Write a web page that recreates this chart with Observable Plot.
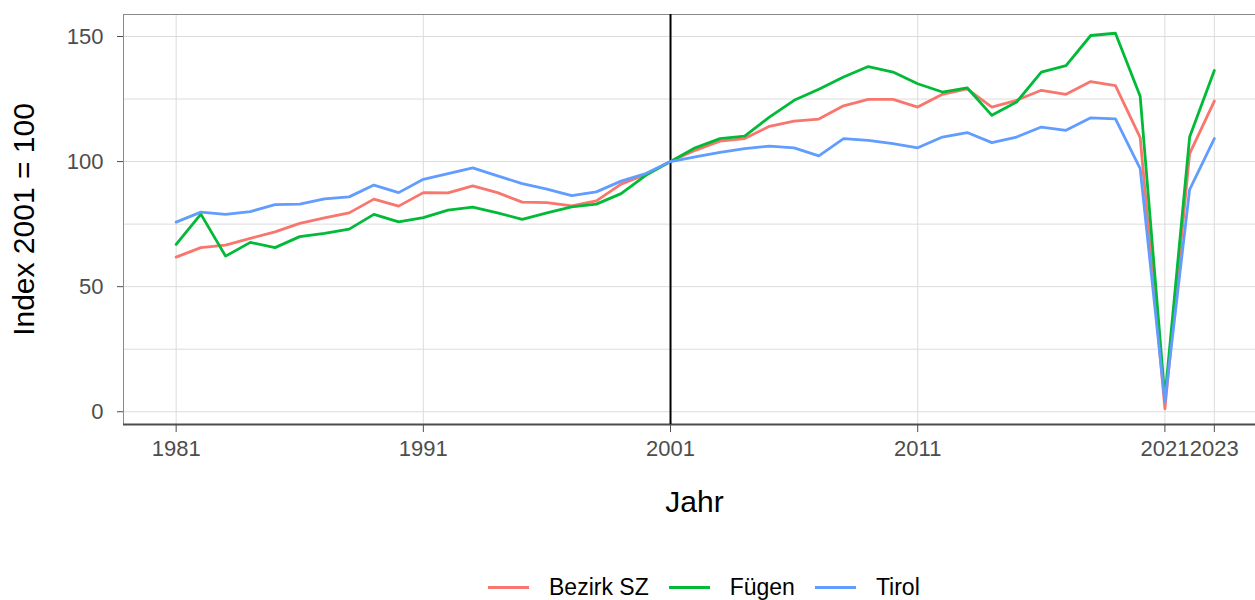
<!DOCTYPE html>
<html><head><meta charset="utf-8">
<script src="https://cdn.jsdelivr.net/npm/d3@7"></script>
<script src="https://cdn.jsdelivr.net/npm/@observablehq/plot@0.6"></script>
<style>
html,body{margin:0;padding:0;background:#fff;overflow:hidden;width:1255px;height:600px;}
#chart{position:absolute;left:0;top:0;width:1265px;}
#chart svg{max-width:none !important;}
#legend{position:absolute;left:488px;top:572px;height:30px;display:flex;align-items:center;font-family:"Liberation Sans",Arial,sans-serif;font-size:23px;color:#000;white-space:nowrap;}
.key{display:inline-block;width:41px;height:3px;margin-right:20px;}
.lab{margin-right:20px;}
</style></head><body>
<div id="chart"></div><div id="legend"></div>
<script>
const years = [1981,1982,1983,1984,1985,1986,1987,1988,1989,1990,
  1991,1992,1993,1994,1995,1996,1997,1998,1999,2000,
  2001,2002,2003,2004,2005,2006,2007,2008,2009,2010,
  2011,2012,2013,2014,2015,2016,2017,2018,2019,2020,
  2021,2022,2023];
const bezirkSZ = [61.8,65.6,66.6,69.3,71.9,75.3,77.5,79.5,85.0,82.2,
  87.6,87.5,90.3,87.6,83.8,83.6,82.3,84.3,91.0,94.9,
  100,104.5,108.2,109.2,114.1,116.2,117.0,122.3,124.9,124.9,
  121.8,126.9,129.1,121.8,124.5,128.5,126.9,132.0,130.4,109.6,
  1.2,103.2,124.2];
const fuegen = [66.9,79.0,62.2,67.7,65.6,70.0,71.3,73.0,78.9,75.9,
  77.6,80.6,81.8,79.5,76.9,79.5,81.9,83.0,87.2,94.5,
  100,105.5,109.2,110.2,117.8,124.5,128.9,133.8,138.0,135.8,
  131.1,127.8,129.5,118.5,123.8,135.8,138.4,150.4,151.3,126.1,
  5.5,109.8,136.4];
const tirol = [75.8,79.8,78.9,80.0,82.8,83.0,85.1,85.9,90.6,87.6,
  92.9,95.2,97.5,94.3,91.2,89.0,86.4,87.9,92.2,95.2,
  100,101.9,103.7,105.2,106.2,105.5,102.3,109.2,108.5,107.2,
  105.5,109.8,111.6,107.6,109.8,113.8,112.5,117.5,117.1,97.2,
  4.0,88.8,109.2];
const seriesNames = ["Bezirk SZ","Fügen","Tirol"];
const seriesColors = ["#F8766D","#00BA38","#619CFF"];
const xTicks = [1981,1991,2001,2011,2021,2023];
const yTicks = [0,50,100,150];
const yGrid = [0,25,50,75,100,125,150];
const refYear = [2001];
const xDomain = [1978.87, 2025.07];
const yDomain = [-5.1, 158.8];
const xTitle = "Jahr";
const yTitle = "Index 2001 = 100";

const rows = [];
[bezirkSZ, fuegen, tirol].forEach((vals, i) =>
  vals.forEach((v, j) => rows.push({year: years[j], value: v, series: seriesNames[i]})));

const chart = Plot.plot({
  width: 1265, height: 555,
  marginTop: 14, marginLeft: 123, marginRight: 0, marginBottom: 131,
  style: {fontFamily: "Liberation Sans, Arial, sans-serif", background: "#fff", overflow: "visible", maxWidth: "none"},
  x: {domain: xDomain},
  y: {domain: yDomain},
  color: {domain: seriesNames, range: seriesColors},
  marks: [
    Plot.gridY(yGrid, {stroke: "#dcdcdc", strokeOpacity: 1, strokeWidth: 1}),
    Plot.gridX(xTicks, {stroke: "#dcdcdc", strokeOpacity: 1, strokeWidth: 1}),
    Plot.frame({stroke: "#8a8a8a"}),
    Plot.ruleY([yDomain[0]], {stroke: "#4d4d4d", strokeWidth: 2}),
    Plot.axisY(yTicks, {tickSize: 6, tickPadding: 14, fontSize: 22, color: "#4d4d4d", label: null}),
    Plot.axisX(xTicks, {tickSize: 8, tickPadding: 8, fontSize: 22, color: "#4d4d4d", label: null, tickFormat: d => String(d)}),
    Plot.ruleX(refYear, {stroke: "black", strokeWidth: 2}),
    Plot.line(rows, {x: "year", y: "value", stroke: "series", z: "series", strokeWidth: 2.8}),
    Plot.text([yTitle], {frameAnchor: "left", rotate: -90, dx: -90, textAnchor: "middle", lineAnchor: "bottom", fontSize: 30, fill: "black"}),
    Plot.text([xTitle], {frameAnchor: "bottom", dy: 87, textAnchor: "middle", lineAnchor: "bottom", fontSize: 30, fill: "black"})
  ]
});
document.getElementById("chart").appendChild(chart);

const legend = document.getElementById("legend");
seriesNames.forEach((name, i) => {
  const k = document.createElement("span");
  k.className = "key";
  k.style.background = seriesColors[i];
  const t = document.createElement("span");
  t.className = "lab";
  t.textContent = name;
  legend.appendChild(k);
  legend.appendChild(t);
});
</script>
</body></html>
